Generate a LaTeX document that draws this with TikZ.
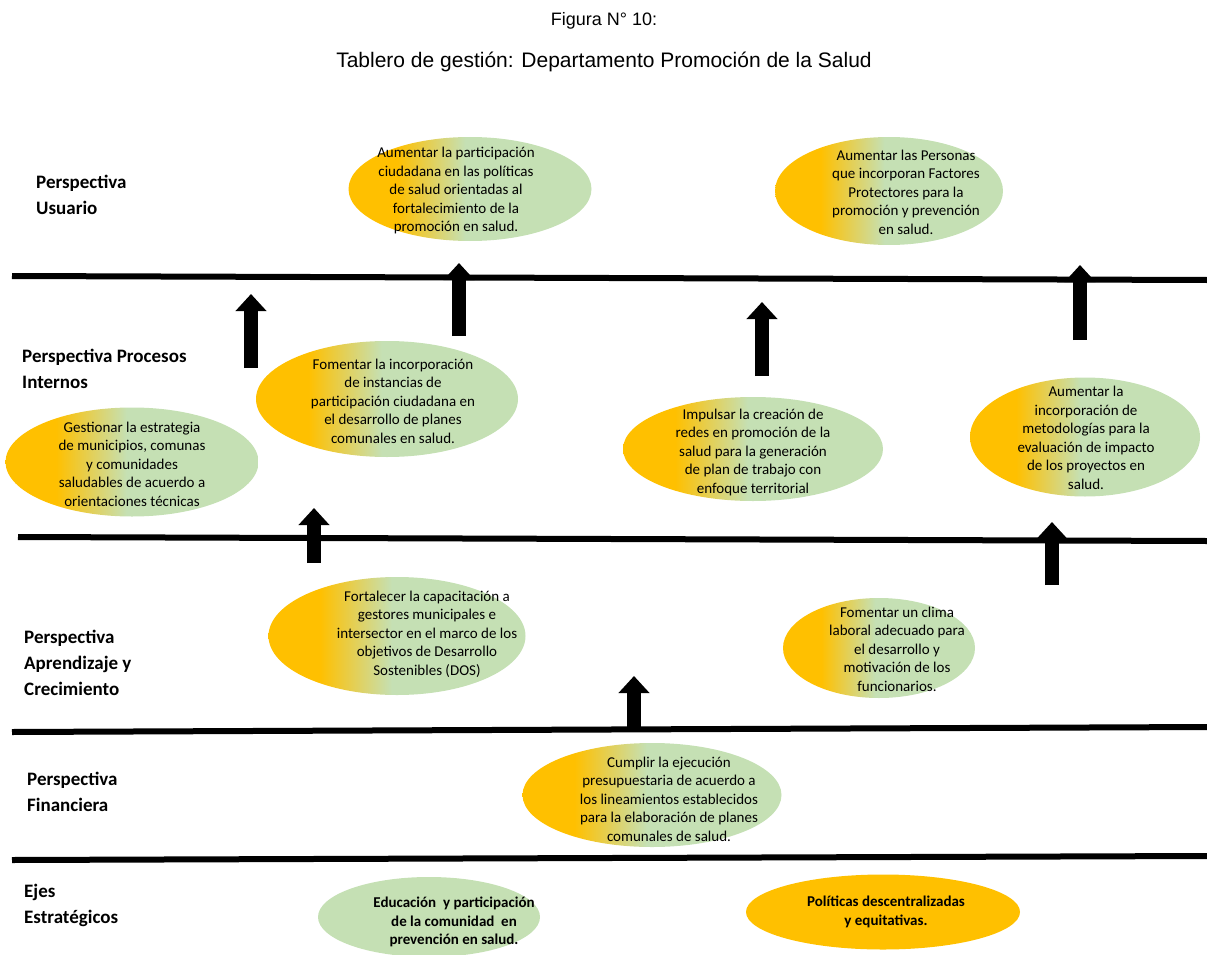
\documentclass[tikz,border=0pt]{standalone}
\usepackage{fontspec}
\setmainfont{Carlito}
\newfontfamily\titlefont{Liberation Sans}
\usetikzlibrary{shapes.geometric,arrows.meta}

\definecolor{orng}{HTML}{FFC000}
\definecolor{grn}{HTML}{C5E0B4}
% orange on the left fifth, fading to green by the middle
\pgfdeclarehorizontalshading{orgr}{100bp}{color(0bp)=(orng); color(35bp)=(orng); color(49bp)=(grn); color(100bp)=(grn)}

\tikzset{
  goal/.style={ellipse, shading=orgr, inner sep=0pt},
  axisgreen/.style={ellipse, fill=grn, inner sep=0pt},
  axisorange/.style={ellipse, fill=orng, inner sep=0pt},
  gtext/.style={align=center, inner sep=0pt, font=\fontsize{15}{18.5}\selectfont},
  btext/.style={align=center, inner sep=0pt, font=\bfseries\fontsize{15}{18.5}\selectfont},
  persp/.style={anchor=west, align=left, inner sep=0pt, font=\bfseries\fontsize{19}{26}\selectfont},
  divider/.style={line width=6pt, black},
  lift/.style={line width=14pt, black, -{Triangle[width=30pt,length=17pt]}},
}

\begin{document}
\begin{tikzpicture}[x=1pt, y=-1pt]
\useasboundingbox (0,0) rectangle (1207,955);

% title
\node[font=\titlefont\fontsize{18}{20}\selectfont] (fig) at (604,21) {Figura N° 10:};
\node[font=\titlefont\fontsize{21}{23}\selectfont] (title) at (604,62) {Tablero de gestión: Departamento Promoción de la Salud};

% dividing lines between perspectives
\coordinate (l1a) at (12,276);  \coordinate (l1b) at (1207,280);
\coordinate (l2a) at (18,537);  \coordinate (l2b) at (1207,541);
\coordinate (l3a) at (12,732);  \coordinate (l3b) at (1207,727);
\coordinate (l4a) at (12,860);  \coordinate (l4b) at (1207,856);
\draw[divider] (l1a) -- (l1b);
\draw[divider] (l2a) -- (l2b);
\draw[divider] (l3a) -- (l3b);
\draw[divider] (l4a) -- (l4b);

% perspective labels
\node[persp] (pu) at (36,195) {Perspectiva\\Usuario};
\node[persp] (pp) at (22,369) {Perspectiva Procesos\\Internos};
\node[persp] (pa) at (24,663) {Perspectiva\\Aprendizaje y\\Crecimiento};
\node[persp] (pf) at (27,792) {Perspectiva\\Financiera};
\node[persp] (pe) at (24,905) {Ejes\\Estratégicos};

% objectives
\node[goal, minimum width=243, minimum height=104] (e1) at (470,189) {};
\node[gtext] (t1) at (456,191) {Aumentar la participación\\ciudadana en las políticas\\de salud orientadas al\\fortalecimiento de la\\promoción en salud.};

\node[goal, minimum width=228, minimum height=108] (e2) at (889,191) {};
\node[gtext] (t2) at (906,192) {Aumentar las Personas\\que incorporan Factores\\Protectores para la\\promoción y prevención\\en salud.};

\node[goal, minimum width=262, minimum height=116] (e3) at (387,399) {};
\node[gtext] (t3) at (393,401) {Fomentar la incorporación\\de instancias de\\participación ciudadana en\\el desarrollo de planes\\comunales en salud.};

\node[goal, minimum width=253, minimum height=109] (e4) at (132,462) {};
\node[gtext] (t4) at (132,464) {Gestionar la estrategia\\de municipios, comunas\\y comunidades\\saludables de acuerdo a\\orientaciones técnicas};

\node[goal, minimum width=260, minimum height=104] (e5) at (753,449) {};
\node[gtext] (t5) at (753,452) {Impulsar la creación de\\redes en promoción de la\\salud para la generación\\de plan de trabajo con\\enfoque territorial};

\node[goal, minimum width=230, minimum height=119] (e6) at (1085,437) {};
\node[gtext] (t6) at (1086,438) {Aumentar la\\incorporación de\\metodologías para la\\evaluación de impacto\\de los proyectos en\\salud.};

\node[goal, minimum width=257, minimum height=118] (e7) at (397,636) {};
\node[gtext] (t7) at (427,634) {Fortalecer la capacitación a\\gestores municipales e\\intersector en el marco de los\\objetivos de Desarrollo\\Sostenibles (DOS)};

\node[goal, minimum width=192, minimum height=100] (e8) at (879,648) {};
\node[gtext] (t8) at (897,649) {Fomentar un clima\\laboral adecuado para\\el desarrollo y\\motivación de los\\funcionarios.};

\node[goal, minimum width=259, minimum height=104] (e9) at (652,795) {};
\node[gtext] (t9) at (669,799) {Cumplir la ejecución\\presupuestaria de acuerdo a\\los lineamientos establecidos\\para la elaboración de planes\\comunales de salud.};

% strategic axes
\node[axisgreen, minimum width=222, minimum height=80] (e10) at (429,917) {};
\node[btext] (t10) at (454,922) {Educación\ \ y participación\\de la comunidad\ \ en\\prevención en salud.};

\node[axisorange, minimum width=274, minimum height=75] (e11) at (883,912) {};
\node[btext] (t11) at (886,912) {Políticas descentralizadas\\y equitativas.};

% upward arrows
\coordinate (a1b) at (251,368);  \coordinate (a1t) at (251,294);
\coordinate (a2b) at (459,336);  \coordinate (a2t) at (459,263);
\coordinate (a3b) at (762,376);  \coordinate (a3t) at (762,302);
\coordinate (a4b) at (1080,340); \coordinate (a4t) at (1080,265);
\coordinate (a5b) at (314,563);  \coordinate (a5t) at (314,508);
\coordinate (a6b) at (1052,585); \coordinate (a6t) at (1052,522);
\coordinate (a7b) at (634,730);  \coordinate (a7t) at (634,676);
\draw[lift] (a1b) -- (a1t);
\draw[lift] (a2b) -- (a2t);
\draw[lift] (a3b) -- (a3t);
\draw[lift] (a4b) -- (a4t);
\draw[lift] (a5b) -- (a5t);
\draw[lift] (a6b) -- (a6t);
\draw[lift] (a7b) -- (a7t);
\end{tikzpicture}
\end{document}
